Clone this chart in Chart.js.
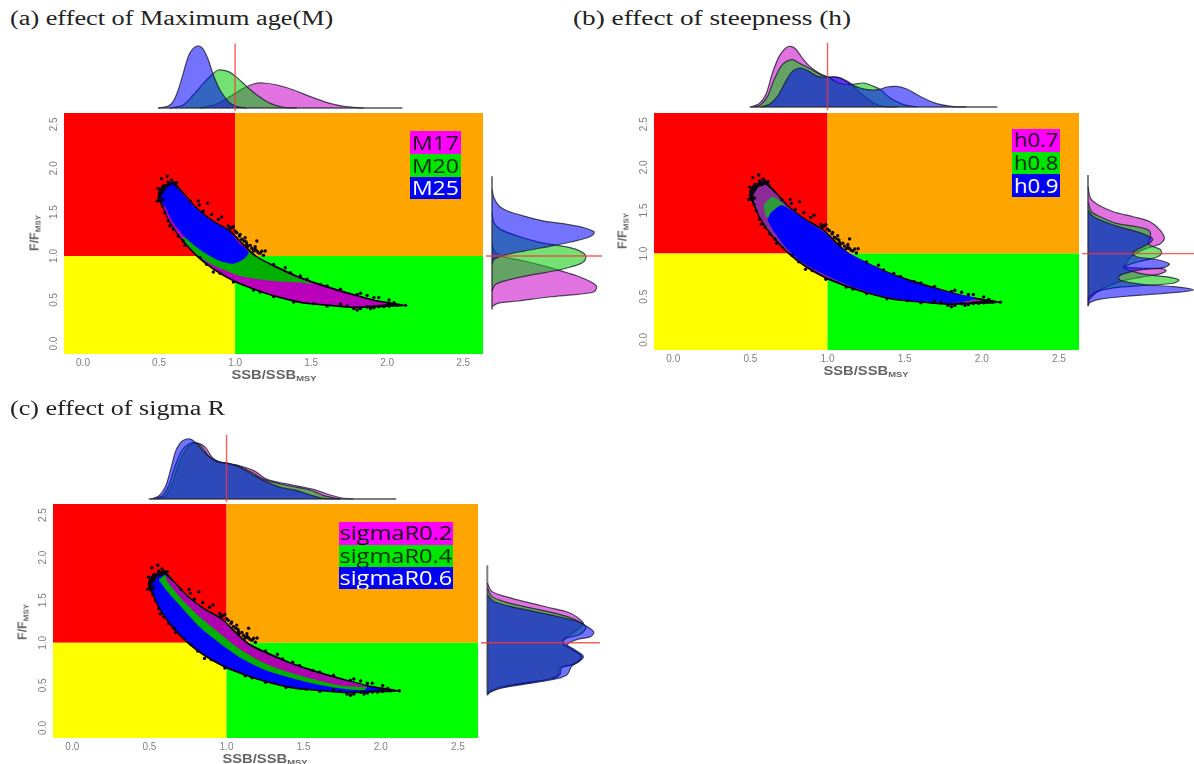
<!DOCTYPE html>
<html>
<head>
<meta charset="utf-8">
<title>Kobe plots</title>
<script src="https://cdn.jsdelivr.net/npm/chart.js@4/dist/chart.umd.min.js"></script>
<style>
    html, body { margin: 0; padding: 0; background: #fff; }
    body { position: relative; width: 1194px; height: 764px; overflow: hidden; }
    canvas { position: absolute; filter: blur(0.5px); }
    .title { position: absolute; font-family: "Liberation Serif", serif; font-size: 20px; color: #222; white-space: nowrap; transform-origin: 0 50%; }
    .axis { position: absolute; font-family: "Liberation Sans", sans-serif; font-size: 12.5px; font-weight: bold; color: #666; white-space: nowrap; }
    .axis sub { font-size: 8px; vertical-align: -2px; }
    .key { position: absolute; font-family: "Open Sans", sans-serif; font-size: 20px; text-align: center; overflow: hidden; white-space: nowrap; }
    .key span { display: inline-block; }
</style>
</head>
<body>
<script>
// axes
const xTicks = [0, 0.5, 1, 1.5, 2, 2.5];
const yTicks = [0, 0.5, 1, 1.5, 2, 2.5];
const xLimits = [-0.125, 2.63];
const yLimits = [-0.118, 2.63];
const topLimits = [-0.2, 3.3];

// kobe quadrants
const quadRed = [[-0.125, 1], [1, 1], [1, 2.63], [-0.125, 2.63]];
const quadOrange = [[1, 1], [2.63, 1], [2.63, 2.63], [1, 2.63]];
const quadYellow = [[-0.125, -0.118], [1, -0.118], [1, 1], [-0.125, 1]];
const quadGreen = [[1, -0.118], [2.63, -0.118], [2.63, 1], [1, 1]];

// outline of the whole cloud (black points), same in all three panels
const cloudEdge = [[0.593, 1.854], [0.659, 1.722], [0.747, 1.55], [0.857, 1.399], [0.967, 1.285], [1.055, 1.133], [1.143, 0.992], [1.253, 0.893], [1.407, 0.772], [1.561, 0.677], [1.737, 0.582], [1.913, 0.498], [2.11, 0.437],
    [1.957, 0.422], [1.781, 0.411], [1.605, 0.437], [1.429, 0.468], [1.253, 0.544], [1.121, 0.62], [0.989, 0.714], [0.857, 0.848], [0.747, 1.0], [0.637, 1.209], [0.56, 1.418], [0.516, 1.589], [0.494, 1.665], [0.505, 1.76], [0.538, 1.816]];
const cloudInner = [[0.6, 1.8], [0.66, 1.7], [0.75, 1.53], [0.86, 1.38], [0.97, 1.265], [1.05, 1.12], [1.14, 0.975], [1.25, 0.875], [1.41, 0.755], [1.56, 0.66], [1.74, 0.565], [1.91, 0.485], [2.0, 0.455],
    [1.93, 0.44], [1.78, 0.425], [1.6, 0.45], [1.43, 0.482], [1.25, 0.557], [1.12, 0.635], [0.99, 0.73], [0.86, 0.862], [0.75, 1.015], [0.64, 1.22], [0.565, 1.42], [0.525, 1.59], [0.52, 1.68], [0.55, 1.77]];
const cloudStray = [[0.554, 1.911], [0.516, 1.881], [0.494, 1.771], [0.488, 1.627], [0.758, 1.626], [0.82, 1.6], [0.765, 1.581], [0.912, 1.444], [1.143, 1.17], [1.073, 1.159], [1.099, 1.121], [1.198, 1.056], [1.176, 1.053], [1.132, 1.076], [1.11, 1.087], [1.154, 1.037], [1.066, 1.208], [1.033, 1.246], [0.978, 1.322], [0.67, 1.121], [0.571, 1.341], [0.857, 0.817], [1.165, 0.589], [1.33, 0.866], [1.429, 0.771], [1.56, 0.676], [1.803, 0.562], [1.945, 0.525], [2.012, 0.498], [2.045, 0.467], [2.121, 0.437], [2.066, 0.437], [2.012, 0.429], [1.913, 0.41], [1.825, 0.399], [1.803, 0.384], [1.517, 0.456], [0.615, 1.836], [0.582, 1.866], [0.527, 1.74],
    [0.505, 1.722], [0.527, 1.798], [0.56, 1.843], [0.604, 1.828], [0.501, 1.676], [0.51, 1.627], [0.523, 1.57], [0.538, 1.494], [0.56, 1.399], [0.593, 1.304], [0.626, 1.228], [0.659, 1.17], [0.703, 1.627], [0.791, 1.512], [0.846, 1.474], [0.89, 1.417], [0.956, 1.341], [1.0, 1.284], [1.044, 1.19], [1.077, 1.132], [1.121, 1.057], [1.253, 0.904], [1.363, 0.81], [1.473, 0.734], [1.605, 0.658], [1.693, 0.62], [1.869, 0.551], [1.253, 0.536], [1.385, 0.475], [1.605, 0.429], [1.737, 0.429], [1.869, 0.418], [1.979, 0.422], [0.769, 0.981], [0.813, 0.904], [0.901, 0.802], [0.989, 0.703], [1.121, 0.612],
    [0.967, 1.311], [0.989, 1.334], [1.011, 1.265], [1.029, 1.228], [1.06, 1.17], [1.081, 1.106], [1.132, 1.106], [1.143, 1.057], [1.165, 1.03], [1.187, 1.007], [1.825, 0.574], [1.913, 0.525], [1.693, 0.449], [1.781, 0.399], [1.891, 0.399], [1.945, 0.422], [0.538, 1.778], [0.571, 1.816], [0.51, 1.703], [0.527, 1.645]];

// panel a, cloud
const aGreenBand = [[0.813, 1.228], [1.033, 1.113], [1.132, 0.992], [1.253, 0.878], [1.407, 0.752], [1.517, 0.676], [1.429, 0.696], [1.253, 0.715], [1.033, 0.772], [0.846, 0.904], [0.747, 1.018], [0.648, 1.208]];
const aBlueBand = [[0.582, 1.828], [0.648, 1.722], [0.736, 1.55], [0.846, 1.399], [0.956, 1.285], [1.033, 1.133], [1.088, 1.037], [1.055, 0.961], [0.989, 0.912], [0.901, 0.943], [0.791, 1.045], [0.681, 1.197], [0.593, 1.38], [0.538, 1.569], [0.512, 1.645], [0.532, 1.74]];

// panel b, cloud
const bGreenFleck = [[0.585, 1.56], [0.64, 1.66], [0.7, 1.6], [0.735, 1.5], [0.65, 1.43], [0.6, 1.42]];
const bBlueBand = [[0.63, 1.47], [0.7, 1.56], [0.783, 1.48], [0.869, 1.37], [0.976, 1.25], [1.062, 1.1], [1.191, 0.955], [1.32, 0.84], [1.492, 0.705], [1.664, 0.607], [1.836, 0.53], [1.965, 0.482],
    [1.836, 0.43], [1.664, 0.44], [1.492, 0.465], [1.32, 0.525], [1.148, 0.625], [0.998, 0.74], [0.847, 0.885], [0.74, 1.05], [0.654, 1.25], [0.61, 1.39]];

// panel c, cloud
const cMagentaBand = [[0.6, 1.8], [0.66, 1.7], [0.75, 1.53], [0.86, 1.38], [0.97, 1.265], [1.05, 1.12], [1.14, 0.975], [1.25, 0.875], [1.41, 0.755], [1.56, 0.66], [1.74, 0.565], [1.91, 0.485],
    [1.759, 0.492], [1.586, 0.562], [1.414, 0.648], [1.241, 0.765], [1.09, 0.921], [0.939, 1.136], [0.81, 1.33], [0.702, 1.526], [0.615, 1.72]];
const cGreenBand = [[0.6, 1.8], [0.66, 1.7], [0.75, 1.53], [0.86, 1.38], [0.97, 1.265], [1.05, 1.12], [1.14, 0.975], [1.25, 0.875], [1.41, 0.755], [1.56, 0.66], [1.74, 0.565], [1.91, 0.485],
    [1.889, 0.445], [1.759, 0.461], [1.586, 0.511], [1.414, 0.589], [1.241, 0.687], [1.09, 0.824], [0.939, 1.019], [0.81, 1.213], [0.702, 1.428], [0.615, 1.604], [0.561, 1.74]];

// top margins: [SSB/SSBmsy, density]
const topM17 = [[0.769, 0], [0.879, 0.2], [0.967, 0.57], [1.055, 0.98], [1.121, 1.2], [1.187, 1.25], [1.275, 1.15], [1.385, 0.9], [1.495, 0.57], [1.605, 0.27], [1.715, 0.08], [1.847, 0]];
const topM20 = [[0.571, 0], [0.659, 0.15], [0.725, 0.65], [0.791, 1.23], [0.846, 1.65], [0.89, 1.9], [0.956, 1.82], [1.011, 1.53], [1.077, 1.07], [1.143, 0.65], [1.231, 0.23], [1.319, 0.03], [1.407, 0]];
const topM25 = [[0.494, 0], [0.56, 0.1], [0.593, 0.32], [0.626, 0.9], [0.659, 1.73], [0.692, 2.57], [0.725, 2.98], [0.763, 3.1], [0.791, 2.93], [0.824, 2.4], [0.857, 1.65], [0.901, 0.9], [0.956, 0.32], [1.011, 0.07], [1.077, 0]];
const topH07 = [[0.503, 0], [0.557, 0.17], [0.6, 0.62], [0.643, 1.7], [0.686, 2.53], [0.729, 2.95], [0.761, 3.03], [0.793, 2.9], [0.836, 2.45], [0.879, 2.07], [0.944, 1.7], [1.002, 1.5], [1.062, 1.48], [1.105, 1.37], [1.148, 1.15], [1.213, 0.7], [1.299, 0.2], [1.363, 0.03], [1.449, 0]];
const topH08 = [[0.525, 0], [0.568, 0.12], [0.611, 0.53], [0.654, 1.37], [0.707, 2.12], [0.772, 2.37], [0.815, 2.2], [0.879, 1.95], [0.955, 1.62], [1.002, 1.5], [1.073, 1.2], [1.148, 1.12], [1.234, 1.2], [1.299, 1.03], [1.342, 0.87], [1.406, 0.45], [1.492, 0.12], [1.578, 0]];
const topH09 = [[0.568, 0], [0.621, 0.12], [0.675, 0.53], [0.729, 1.28], [0.772, 1.78], [0.826, 1.95], [0.879, 1.78], [0.933, 1.53], [1.002, 1.5], [1.062, 1.5], [1.127, 1.28], [1.18, 1.03], [1.256, 0.87], [1.331, 0.87], [1.385, 1.0], [1.449, 1.03], [1.514, 0.9], [1.6, 0.53], [1.707, 0.17], [1.815, 0.02], [1.901, 0]];
const topS02 = [[0.55, 0], [0.604, 0.15], [0.648, 0.78], [0.691, 1.78], [0.734, 2.45], [0.777, 2.75], [0.82, 2.78], [0.863, 2.58], [0.907, 2.08], [0.95, 1.87], [1.008, 1.78], [1.09, 1.65], [1.176, 1.42], [1.263, 0.98], [1.37, 0.78], [1.478, 0.62], [1.565, 0.48], [1.651, 0.25], [1.759, 0.03], [1.824, 0]];
const topS04 = [[0.529, 0], [0.583, 0.15], [0.626, 0.7], [0.669, 1.7], [0.712, 2.45], [0.756, 2.75], [0.799, 2.82], [0.842, 2.58], [0.885, 2.15], [0.939, 1.87], [1.008, 1.78], [1.079, 1.65], [1.155, 1.37], [1.241, 0.98], [1.349, 0.75], [1.457, 0.58], [1.543, 0.45], [1.629, 0.17], [1.737, 0]];
const topS06 = [[0.507, 0], [0.561, 0.15], [0.604, 0.62], [0.637, 1.45], [0.669, 2.37], [0.702, 2.82], [0.734, 2.98], [0.766, 3.0], [0.799, 2.82], [0.842, 2.45], [0.885, 2.12], [0.939, 1.87], [1.008, 1.78], [1.079, 1.62], [1.155, 1.28], [1.241, 0.92], [1.349, 0.58], [1.457, 0.42], [1.543, 0.2], [1.629, 0.03], [1.737, 0]];

// right margins: [density, F/Fmsy]
const rightM17 = [[0, 1.132], [0.18, 1.037], [0.6, 0.991], [1.6, 0.942], [2.6, 0.885], [3.35, 0.836], [4.27, 0.771], [5.02, 0.695], [5.23, 0.649], [5.1, 0.592], [4.27, 0.562], [2.93, 0.535], [1.27, 0.486], [0.27, 0.459], [0, 0.421]];
const rightM20 = [[0, 1.493], [0.1, 1.379], [0.43, 1.303], [1.27, 1.227], [2.43, 1.151], [3.27, 1.121], [4.1, 1.083], [4.6, 1.029], [4.7, 0.98], [4.52, 0.923], [3.93, 0.874], [3.1, 0.828], [2.1, 0.79], [0.93, 0.733], [0.18, 0.676], [0, 0.6]];
const rightM25 = [[0, 1.759], [0.1, 1.664], [0.35, 1.569], [0.77, 1.512], [1.6, 1.455], [2.6, 1.398], [3.77, 1.36], [4.6, 1.322], [5.1, 1.276], [5.07, 1.246], [4.77, 1.208], [3.93, 1.159], [2.93, 1.113], [1.6, 1.056], [0.6, 1.007], [0.1, 0.961], [0, 0.904]];
const rightH07 = [[0, 1.775], [0.13, 1.64], [0.52, 1.563], [1.27, 1.485], [2.27, 1.427], [3.1, 1.37], [3.6, 1.273], [3.82, 1.177], [3.6, 1.111], [2.93, 1.061], [2.35, 1.0], [2.02, 0.926], [1.85, 0.849], [2.77, 0.83], [3.77, 0.822], [3.9, 0.799], [3.6, 0.764], [2.6, 0.725], [1.6, 0.675], [0.6, 0.579], [0.1, 0.482], [0, 0.424]];
const rightH08 = [[0, 1.6], [0.18, 1.485], [0.6, 1.427], [1.43, 1.35], [2.43, 1.312], [3.02, 1.273], [3.13, 1.215], [3.02, 1.111], [3.6, 1.049], [3.68, 1.0], [3.43, 0.957], [2.77, 0.918], [2.1, 0.876], [1.77, 0.841], [2.27, 0.791], [2.93, 0.756], [4.1, 0.725], [4.55, 0.694], [4.27, 0.656], [2.93, 0.633], [1.6, 0.61], [0.6, 0.571], [0.1, 0.51], [0, 0.455]];
const rightH09 = [[0, 1.505], [0.27, 1.427], [1.27, 1.331], [2.43, 1.254], [3.02, 1.204], [3.23, 1.169], [3.07, 1.119], [2.43, 1.042], [2.23, 1.0], [2.52, 0.957], [3.35, 0.934], [4.07, 0.88], [3.77, 0.837], [2.6, 0.81], [1.77, 0.764], [1.52, 0.725], [1.68, 0.683], [2.93, 0.637], [4.27, 0.617], [5.27, 0.579], [4.27, 0.548], [2.1, 0.509], [0.6, 0.471], [0.1, 0.432], [0, 0.394]];
const rightS02 = [[0, 1.701], [0.22, 1.604], [0.88, 1.545], [1.8, 1.487], [2.97, 1.42], [4.13, 1.35], [4.8, 1.233], [4.63, 1.175], [4.13, 1.097], [3.8, 1.038], [3.8, 0.98], [4.22, 0.921], [4.68, 0.843], [4.47, 0.765], [3.63, 0.707], [3.55, 0.628], [3.13, 0.578], [1.63, 0.523], [0.47, 0.472], [0, 0.414]];
const rightS04 = [[0, 1.642], [0.22, 1.545], [0.8, 1.487], [1.8, 1.428], [2.97, 1.37], [3.97, 1.311], [4.72, 1.233], [4.93, 1.175], [4.63, 1.097], [3.97, 1.058], [3.77, 1.007], [4.05, 0.952], [4.63, 0.863], [4.72, 0.824], [4.3, 0.746], [3.72, 0.707], [3.63, 0.628], [3.22, 0.578], [1.8, 0.523], [0.63, 0.472], [0, 0.402]];
const rightS06 = [[0, 1.565], [0.3, 1.487], [1.13, 1.428], [2.3, 1.37], [3.47, 1.311], [4.47, 1.253], [4.97, 1.194], [5.33, 1.124], [5.13, 1.069], [4.47, 1.038], [4, 0.98], [4.3, 0.929], [4.8, 0.843], [4.63, 0.785], [4.22, 0.726], [4, 0.628], [3.47, 0.578], [2.13, 0.523], [0.8, 0.472], [0.13, 0.422], [0, 0.383]];

// baselines and the red reference lines of the margins
const topBaseline = [[0.495, 0], [2.1, 0]];
const rightBaseline = [[0, 0.39], [0, 1.91]];
const topRefLine = [[1, -0.15], [1, 3.22]];

// legend labels
const labelsA = ['M17', 'M20', 'M25'];
const labelsB = ['h0.7', 'h0.8', 'h0.9'];
const labelsC = ['sigmaR0.2', 'sigmaR0.4', 'sigmaR0.6'];

const GUTTER_LEFT = 45, GUTTER_BOTTOM = 30, PX_PER_DENSITY = 20;
const fillMagenta = 'rgba(200,0,200,0.55)', fillGreen = 'rgba(0,200,0,0.55)', fillBlue = 'rgba(0,0,255,0.55)';
const keyColors = ['#ff00ff', '#00e600', '#0000f5'], keyText = ['#1a001a', '#002a00', '#ffffff'];

function toPoints(pairs) {
    return pairs.map(p => ({x: p[0], y: p[1]}));
}

function polygon(pairs, color, tension) {
    return {data: toPoints(pairs), showLine: true, fill: 'shape', backgroundColor: color, borderColor: color, borderWidth: 0, pointRadius: 0, tension: tension || 0};
}

function density(pairs, color) {
    return {data: toPoints(pairs), showLine: true, fill: 'shape', backgroundColor: color, borderColor: 'rgba(20,20,40,0.75)', borderWidth: 1.2, pointRadius: 0, tension: 0.3};
}

function straight(pairs, color, width) {
    return {data: toPoints(pairs), showLine: true, fill: false, borderColor: color, borderWidth: width, pointRadius: 0};
}

function addCanvas(left, top, width, height) {
    const c = document.createElement('canvas');
    c.width = width;
    c.height = height;
    c.style.left = left + 'px';
    c.style.top = top + 'px';
    document.body.appendChild(c);
    return c;
}

// layers are listed back to front, the library paints the first dataset last
function draw(canvas, layers, scales) {
    return new Chart(canvas, {
        type: 'scatter',
        data: {datasets: layers.slice().reverse()},
        options: {
            responsive: false,
            animation: false,
            events: [],
            layout: {padding: 0, autoPadding: false},
            plugins: {legend: {display: false}, tooltip: {enabled: false}},
            scales: scales
        }
    });
}

function hidden(limits) {
    return {type: 'linear', display: false, min: limits[0], max: limits[1]};
}

function mainScales() {
    const tickStyle = {color: '#808080', font: {family: 'Liberation Sans', size: 10}, autoSkip: false, callback: v => v.toFixed(1)};
    return {
        x: {
            type: 'linear', min: xLimits[0], max: xLimits[1],
            grid: {display: false, drawTicks: false}, border: {display: false},
            ticks: Object.assign({padding: 3, maxRotation: 0}, tickStyle),
            afterBuildTicks: s => { s.ticks = xTicks.map(v => ({value: v})); },
            afterFit: s => { s.height = GUTTER_BOTTOM; s.paddingLeft = 0; s.paddingRight = 0; }
        },
        y: {
            type: 'linear', min: yLimits[0], max: yLimits[1],
            grid: {display: false, drawTicks: false}, border: {display: false},
            ticks: Object.assign({padding: 3, minRotation: 90, maxRotation: 90, crossAlign: 'center'}, tickStyle),
            afterBuildTicks: s => { s.ticks = yTicks.map(v => ({value: v})); },
            afterFit: s => { s.width = GUTTER_LEFT; s.paddingTop = 0; s.paddingBottom = 0; }
        }
    };
}

function addText(cls, html, x, y) {
    const d = document.createElement('div');
    d.className = cls;
    d.innerHTML = html;
    d.style.left = x + 'px';
    d.style.top = y + 'px';
    document.body.appendChild(d);
    return d;
}

function addPanel(p) {
    const w = p.right - p.left, h = p.bottom - p.top;

    draw(addCanvas(p.left - GUTTER_LEFT, p.top, w + GUTTER_LEFT, h + GUTTER_BOTTOM), [
        polygon(quadRed, '#ff0000'),
        polygon(quadOrange, '#ffa500'),
        polygon(quadYellow, '#ffff00'),
        polygon(quadGreen, '#00ff00'),
        Object.assign(polygon(cloudEdge, '#0a0014', 0.25), {borderWidth: 1.2, borderColor: '#0a0014'})
    ].concat(p.cloud, [
        {data: toPoints(cloudStray), backgroundColor: '#0a0014', borderWidth: 0, pointRadius: 1.7}
    ]), mainScales());

    // top margin shares the x limits of the main plot
    const topEdge = p.topBase - topLimits[1] * PX_PER_DENSITY;
    draw(addCanvas(p.left, topEdge, w, (topLimits[1] - topLimits[0]) * PX_PER_DENSITY), [
        density(p.top3[0], fillMagenta),
        density(p.top3[1], fillGreen),
        density(p.top3[2], fillBlue),
        straight(topBaseline, 'rgba(40,40,40,0.6)', 2),
        straight(topRefLine, 'rgba(255,50,50,0.8)', 1.4)
    ], {x: hidden(xLimits), y: hidden(topLimits)});

    // right margin shares the y limits of the main plot
    const rightLimits = [(p.rightFrom - p.rightBase) / PX_PER_DENSITY, (p.rightTo - p.rightBase) / PX_PER_DENSITY];
    draw(addCanvas(p.rightFrom, p.top, p.rightTo - p.rightFrom, h), [
        density(p.right3[0], fillMagenta),
        density(p.right3[1], fillGreen),
        density(p.right3[2], fillBlue),
        straight(rightBaseline, 'rgba(40,40,40,0.6)', 2),
        straight([[rightLimits[0], 1], [rightLimits[1], 1]], 'rgba(255,50,50,0.8)', 1.4)
    ], {x: hidden(rightLimits), y: hidden(yLimits)});

    const title = addText('title', p.title, p.titleX, p.titleY);
    title.style.transform = 'translateY(-50%) scaleX(' + (p.titleW / title.offsetWidth) + ')';

    const xt = addText('axis', 'SSB/SSB<sub>MSY</sub>', p.xTitle[0], p.xTitle[1]);
    xt.style.transform = 'translate(-50%,-50%) scaleX(1.18)';
    const yt = addText('axis', 'F/F<sub>MSY</sub>', p.yTitle[0], p.yTitle[1]);
    yt.style.transform = 'translate(-50%,-50%) rotate(-90deg)';

    p.keys.forEach((label, i) => {
        const k = addText('key', '<span>' + label + '</span>', p.keyX[0], p.keyY[i]);
        const rowH = p.keyY[i + 1] - p.keyY[i];
        k.style.width = (p.keyX[1] - p.keyX[0]) + 'px';
        k.style.height = rowH + 'px';
        k.style.lineHeight = rowH + 'px';
        k.style.background = keyColors[i];
        k.style.color = keyText[i];
        k.firstChild.style.transform = 'scaleX(' + p.keyStretch + ')';
    });
}

addPanel({
    left: 64.3, right: 483.3, top: 113.3, bottom: 354.3,
    topBase: 108, rightBase: 492, rightFrom: 486, rightTo: 602,
    title: '(a) effect of Maximum age(M)', titleX: 10, titleY: 18, titleW: 323,
    xTitle: [274, 375], yTitle: [35, 233],
    keys: labelsA, keyX: [410, 461], keyY: [130.7, 153.7, 176.7, 199.3], keyStretch: 1.15,
    top3: [topM17, topM20, topM25], right3: [rightM17, rightM20, rightM25],
    cloud: [polygon(cloudInner, '#bb00bb', 0.25), polygon(aGreenBand, '#00b000', 0.25), polygon(aBlueBand, '#0000ff', 0.25)]
});

addPanel({
    left: 653.8, right: 1079.3, top: 112.7, bottom: 350,
    topBase: 107.3, rightBase: 1088, rightFrom: 1082, rightTo: 1194,
    title: '(b) effect of steepness (h)', titleX: 573, titleY: 18, titleW: 278,
    xTitle: [866, 371], yTitle: [623, 231],
    keys: labelsB, keyX: [1011.7, 1060], keyY: [129.3, 151.7, 174, 197], keyStretch: 1.1,
    top3: [topH07, topH08, topH09], right3: [rightH07, rightH08, rightH09],
    cloud: [polygon(cloudInner, '#8c2a98', 0.25), polygon(bGreenFleck, '#2f9a3a', 0.25), polygon(bBlueBand, '#0000ff', 0.25)]
});

addPanel({
    left: 52.8, right: 478.4, top: 504.3, bottom: 739,
    topBase: 499, rightBase: 487.3, rightFrom: 481, rightTo: 600,
    title: '(c) effect of sigma R', titleX: 10, titleY: 408, titleW: 215,
    xTitle: [265, 759], yTitle: [23, 622],
    keys: labelsC, keyX: [338.7, 453.5], keyY: [522.3, 545, 567.3, 589.3], keyStretch: 1.18,
    top3: [topS02, topS04, topS06], right3: [rightS02, rightS04, rightS06],
    cloud: [polygon(cloudInner, '#0000ff', 0.25), polygon(cGreenBand, '#00b000', 0.25), polygon(cMagentaBand, '#b000b0', 0.25)]
});
</script>
</body>
</html>
